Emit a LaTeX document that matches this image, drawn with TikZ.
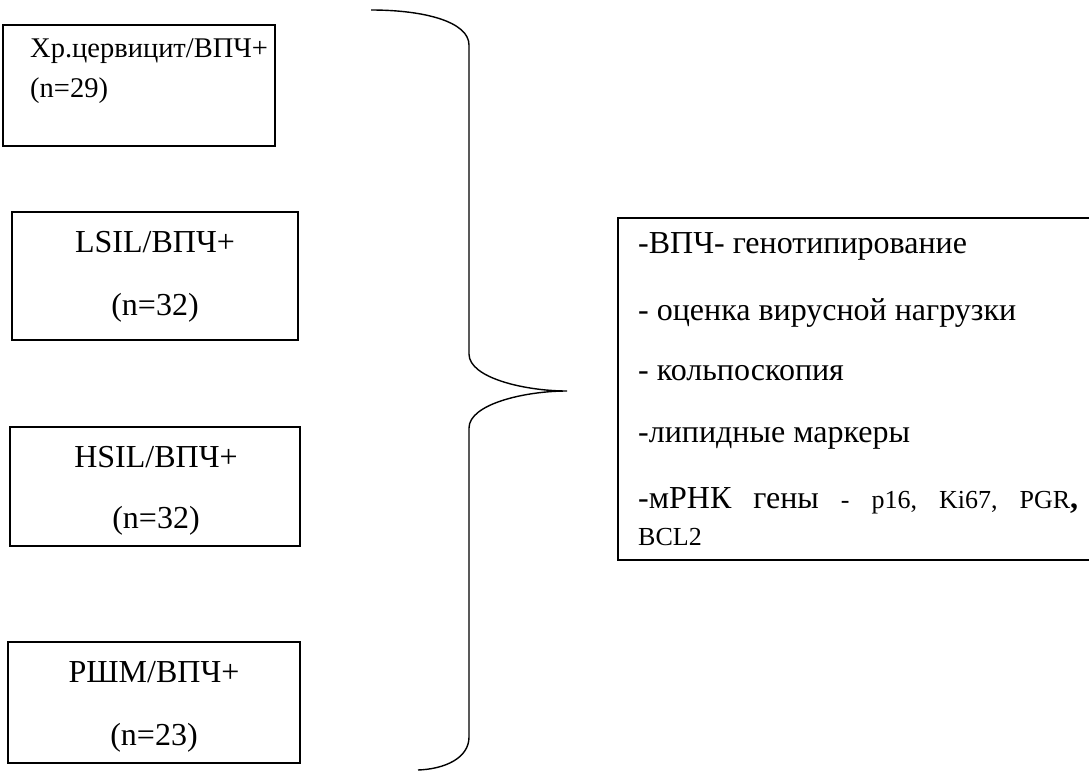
\documentclass[tikz,border=0pt]{standalone}
\usepackage{fontspec}
\setmainfont{Liberation Serif}
\begin{document}
\begin{tikzpicture}[x=1pt,y=-1pt,
  boxstyle/.style={draw=black,line width=1.7pt},
  bigtxt/.style={font=\fontsize{32}{38}\selectfont,inner sep=0pt},
  midtxt/.style={font=\fontsize{28.5}{34}\selectfont,inner sep=0pt},
  smalltxt/.style={font=\fontsize{26}{30}\selectfont,inner sep=0pt}]
\useasboundingbox (0,0) rectangle (1089,771);
% left boxes
\draw[boxstyle] (3,25) rectangle (275,146);
\draw[boxstyle] (12,212) rectangle (298,340);
\draw[boxstyle] (10,427) rectangle (300,546);
\draw[boxstyle] (8,642) rectangle (300,763);
% texts
\node[midtxt,anchor=base west] (t1a) at (30,57) {Хр.цервицит/ВПЧ+};
\node[midtxt,anchor=base west] (t1b) at (30,97) {(n=29)};
\node[bigtxt,anchor=base] (t2a) at (155,252) {LSIL/ВПЧ+};
\node[bigtxt,anchor=base] (t2b) at (155,315) {(n=32)};
\node[bigtxt,anchor=base] (t3a) at (156,467) {HSIL/ВПЧ+};
\node[bigtxt,anchor=base] (t3b) at (156,528) {(n=32)};
\node[bigtxt,anchor=base] (t4a) at (154,682) {РШМ/ВПЧ+};
\node[bigtxt,anchor=base] (t4b) at (154,745) {(n=23)};
% brace
\draw[line width=1.4pt]
  (371,10) .. controls (425,10) and (469,22) .. (469,45)
  -- (469,354)
  .. controls (469,378) and (525,391) .. (567,391)
  .. controls (525,391) and (469,404) .. (469,428)
  -- (469,737)
  .. controls (469,758) and (445,769) .. (418,770);
% right box (right edge beyond the page)
\draw[boxstyle] (1095,218) -- (618,218) -- (618,560) -- (1095,560);
\node[bigtxt,anchor=base west] (l1) at (638,253) {-ВПЧ- генотипирование};
\node[bigtxt,anchor=base west] (l2) at (638,320) {- оценка вирусной нагрузки};
\node[bigtxt,anchor=base west] (l3) at (638,380) {- кольпоскопия};
\node[bigtxt,anchor=base west] (l4) at (638,442) {-липидные маркеры};
\node[bigtxt,anchor=base west,text width=440pt] (l5) at (638,508)
  {-мРНК\hfill гены\hfill {\fontsize{26}{30}\selectfont -}\hfill {\fontsize{26}{30}\selectfont p16,}\hfill {\fontsize{26}{30}\selectfont Ki67,}\hfill {\fontsize{26}{30}\selectfont PGR}{\bfseries ,}};
\node[smalltxt,anchor=base west] (l6) at (638,545) {BCL2};
\end{tikzpicture}
\end{document}
